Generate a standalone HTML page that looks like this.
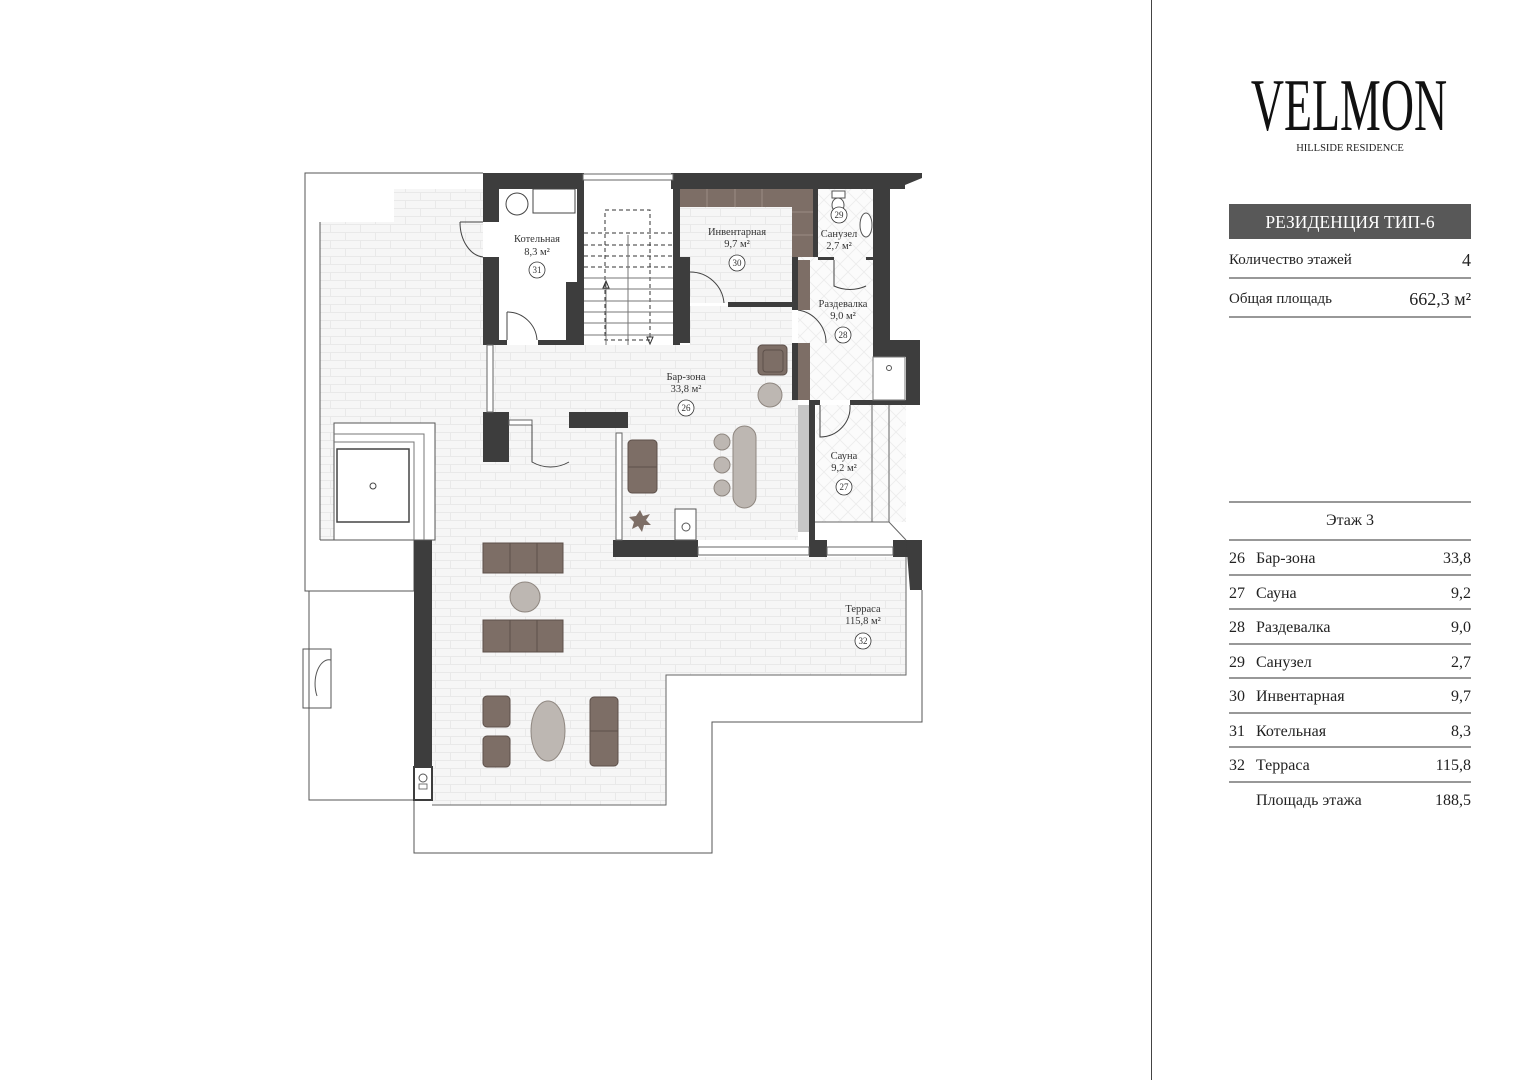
<!DOCTYPE html>
<html><head><meta charset="utf-8"><style>
html,body{margin:0;padding:0;background:#fff;}
body{width:1539px;height:1080px;overflow:hidden;position:relative;font-family:"Liberation Serif",serif;}
svg{position:absolute;left:0;top:0;}
svg text{font-family:"Liberation Serif",serif;}
</style></head><body>
<svg width="1539" height="1080" viewBox="0 0 1539 1080" xmlns="http://www.w3.org/2000/svg">
<defs>
<pattern id="tile" width="30" height="16" patternUnits="userSpaceOnUse">
<rect width="30" height="16" fill="#f6f6f6"/>
<path d="M0 0.5H30M0 8.5H30M0.5 0V8M15.5 8V16" stroke="#e9e9e9" stroke-width="1" fill="none"/>
</pattern>
<pattern id="diag" width="16" height="16" patternUnits="userSpaceOnUse">
<rect width="16" height="16" fill="#fbfbfb"/>
<path d="M0 0L16 16M16 0L0 16" stroke="#ececec" stroke-width="0.8"/>
</pattern>
</defs>

<!-- outer thin outlines -->
<g fill="none" stroke="#555" stroke-width="1">
<polyline points="483,173 305,173 305,591 414,591"/>
<polyline points="309,591 309,800 414,800"/>
<rect x="303" y="649" width="28" height="59"/>
<path d="M331,660 A14,24 0 0 0 317,696" />
<polyline points="922,590 922,722 712,722 712,853 414,853 414,787"/>
</g>

<!-- tiled floors -->
<polygon points="320,222 394,222 394,189 483,189 483,345 492,345 792,345 792,400 798,400 798,540 613,540 613,557 432,557 432,540 320,540" fill="url(#tile)"/>
<rect x="497" y="189" width="80" height="151" fill="#fff"/>
<rect x="432" y="557" width="474" height="118" fill="url(#tile)"/>
<rect x="432" y="675" width="234" height="130" fill="url(#tile)"/>
<rect x="690" y="306" width="102" height="40" fill="url(#tile)"/>
<rect x="680" y="207" width="112" height="96" fill="url(#tile)"/>
<rect x="798" y="257" width="75" height="143" fill="url(#diag)"/>
<rect x="818" y="189" width="55" height="68" fill="url(#diag)"/>
<rect x="816" y="405" width="90" height="117" fill="url(#diag)"/>
<line x1="414" y1="540" x2="414" y2="591" stroke="#555"/>
<line x1="320" y1="540" x2="414" y2="540" stroke="#555"/>
<line x1="320" y1="222" x2="320" y2="540" stroke="#555"/>
<polyline points="906,557 906,675 666,675 666,805 432,805" fill="none" stroke="#666"/>

<!-- walls -->
<g fill="#3d3d3d">
<rect x="483" y="173" width="100" height="16"/>
<rect x="483" y="173" width="16" height="49"/>
<rect x="483" y="257" width="16" height="88"/>
<rect x="483" y="340" width="24" height="5"/>
<rect x="538" y="340" width="45" height="5"/>
<rect x="566" y="282" width="11" height="63"/>
<rect x="577" y="173" width="7" height="172"/>
<rect x="673" y="173" width="7" height="172"/>
<polygon points="671,173 922,173 922,178 905,185 905,189 671,189"/>
<rect x="680" y="257" width="10" height="86"/>
<rect x="728" y="302" width="64" height="5"/>
<rect x="813" y="189" width="5" height="68"/>
<rect x="792" y="257" width="6" height="53"/>
<rect x="792" y="343" width="6" height="57"/>
<rect x="818" y="257" width="16" height="3"/>
<rect x="866" y="257" width="7" height="3"/>
<rect x="873" y="185" width="17" height="172"/>
<rect x="873" y="340" width="47" height="17"/>
<rect x="906" y="357" width="14" height="48"/>
<rect x="812" y="400" width="8" height="5"/>
<rect x="850" y="400" width="56" height="5"/>
<rect x="809" y="400" width="6" height="155"/>
<rect x="483" y="412" width="26" height="50"/>
<rect x="569" y="412" width="59" height="16"/>
<rect x="613" y="540" width="85" height="17"/>
<rect x="809" y="540" width="18" height="17"/>
<rect x="893" y="540" width="27" height="17"/>
<polygon points="906,540 922,540 922,590 910,590"/>
<rect x="414" y="540" width="18" height="227"/>
</g>
<rect x="414" y="767" width="18" height="33" fill="#fff" stroke="#3d3d3d" stroke-width="2"/>
<circle cx="423" cy="778" r="4" fill="none" stroke="#555"/>
<rect x="419" y="784" width="8" height="5" fill="none" stroke="#555" stroke-width="0.8"/>

<!-- windows -->
<g fill="#fff" stroke="#666" stroke-width="1">
<rect x="583" y="174" width="90" height="6"/>
<rect x="487" y="345" width="6" height="67"/>
<rect x="509" y="420" width="23" height="5"/>
<rect x="616" y="433" width="6" height="107"/>
<rect x="698" y="547" width="111" height="8"/>
<rect x="827" y="547" width="66" height="8"/>
</g>

<!-- doors -->
<g fill="none" stroke="#444" stroke-width="1">
<path d="M460,222 L483,222 M460,222 A25,35 0 0 0 483,257"/>
<path d="M507,312 L507,340 M507,312 A30,30 0 0 1 537,340"/>
<path d="M532,425 L532,462 A37,37 0 0 0 569,462"/>
<path d="M690,272 A34,34 0 0 1 724,303"/>
<path d="M798,310 A33,33 0 0 1 826,343"/>
<path d="M834,260 L834,286 A32,26 0 0 0 866,286"/>
<path d="M820,405 L820,437 A30,30 0 0 0 850,405"/>
</g>

<!-- sauna benches -->
<rect x="798" y="405" width="11" height="127" fill="#c6c6c6"/>
<g fill="none" stroke="#666">
<line x1="872" y1="405" x2="872" y2="522"/>
<line x1="889" y1="405" x2="889" y2="522"/>
<polyline points="815,522 889,522 906,540"/>
</g>
<rect x="873" y="357" width="32" height="43" fill="#fff" stroke="#777"/>
<circle cx="889" cy="368" r="2.5" fill="none" stroke="#555"/>

<!-- stairs -->
<g stroke="#333" stroke-width="1" fill="none">
<g stroke-dasharray="4,3">
<line x1="584" y1="233" x2="673" y2="233"/><line x1="584" y1="245" x2="673" y2="245"/>
<line x1="584" y1="256" x2="673" y2="256"/><line x1="584" y1="267" x2="673" y2="267"/>
<rect x="605" y="210" width="45" height="130"/>
</g>
<g stroke="#777">
<line x1="584" y1="278" x2="673" y2="278"/><line x1="584" y1="289" x2="673" y2="289"/>
<line x1="584" y1="301" x2="673" y2="301"/><line x1="584" y1="312" x2="673" y2="312"/>
<line x1="584" y1="323" x2="673" y2="323"/><line x1="584" y1="335" x2="673" y2="335"/>
<line x1="606" y1="282" x2="606" y2="345"/><line x1="628" y1="235" x2="628" y2="345"/>
</g>
<path d="M603,288 L606,281 L609,288Z"/><path d="M647,337 L650,344 L653,337Z"/>
</g>

<!-- boiler room -->
<circle cx="517" cy="204" r="11" fill="#fff" stroke="#444"/>
<rect x="533" y="189" width="42" height="24" fill="#fff" stroke="#444"/>

<!-- storage shelves -->
<rect x="680" y="189" width="133" height="18" fill="#7d6e66"/>
<rect x="792" y="189" width="21" height="68" fill="#7d6e66"/>
<g stroke="#9a8c84"><line x1="707" y1="189" x2="707" y2="207"/><line x1="735" y1="189" x2="735" y2="207"/><line x1="762" y1="189" x2="762" y2="207"/><line x1="792" y1="212" x2="813" y2="212"/><line x1="792" y1="235" x2="813" y2="235"/></g>
<rect x="798" y="260" width="12" height="50" fill="#7d6e66"/>
<rect x="798" y="343" width="12" height="57" fill="#7d6e66"/>

<!-- sanuzel fixtures -->
<rect x="832" y="191" width="13" height="7" fill="#fff" stroke="#555"/>
<ellipse cx="838" cy="205" rx="6" ry="7" fill="#fff" stroke="#555"/>
<ellipse cx="866" cy="225" rx="6" ry="12" fill="#fff" stroke="#555"/>

<!-- furniture -->
<g fill="#7d6e66" stroke="#5d504a" stroke-width="1">
<rect x="758" y="345" width="29" height="30" rx="4"/>
<rect x="628" y="440" width="29" height="53" rx="4"/>
<rect x="483" y="543" width="80" height="30"/>
<rect x="483" y="620" width="80" height="32"/>
<rect x="483" y="696" width="27" height="31" rx="4"/>
<rect x="483" y="736" width="27" height="31" rx="4"/>
<rect x="590" y="697" width="28" height="69" rx="4"/>
</g>
<g stroke="#5d504a" fill="none">
<line x1="628" y1="467" x2="657" y2="467"/>
<line x1="510" y1="543" x2="510" y2="573"/><line x1="537" y1="543" x2="537" y2="573"/>
<line x1="510" y1="620" x2="510" y2="652"/><line x1="537" y1="620" x2="537" y2="652"/>
<line x1="590" y1="731" x2="618" y2="731"/>
<rect x="763" y="350" width="20" height="22" rx="3"/>
</g>
<g fill="#bdb7b2" stroke="#8f8780">
<circle cx="770" cy="395" r="12"/>
<rect x="733" y="426" width="23" height="82" rx="11.5"/>
<circle cx="722" cy="442" r="8"/><circle cx="722" cy="465" r="8"/><circle cx="722" cy="488" r="8"/>
<circle cx="525" cy="597" r="15"/>
<ellipse cx="548" cy="731" rx="17" ry="30"/>
</g>
<polygon points="640,510 643,516 650,514 646,520 651,525 644,525 642,532 638,526 632,529 634,522 629,517 636,516" fill="#7d6e66"/>
<rect x="675" y="509" width="21" height="31" fill="#fff" stroke="#555"/>
<circle cx="686" cy="527" r="4" fill="none" stroke="#555"/>

<!-- jacuzzi -->
<rect x="334" y="423" width="101" height="117" fill="#fff" stroke="#555"/>
<polyline points="334,434 424,434 424,540" fill="none" stroke="#777"/>
<polyline points="334,442 414,442 414,540" fill="none" stroke="#777"/>
<rect x="337" y="449" width="72" height="73" fill="#fff" stroke="#444" stroke-width="1.5"/>
<circle cx="373" cy="486" r="3" fill="none" stroke="#444"/>

<!-- room labels -->
<g font-size="10.5" fill="#333" text-anchor="middle">
<text x="537" y="242">Котельная</text><text x="537" y="255">8,3 м²</text>
<text x="737" y="235">Инвентарная</text><text x="737" y="247">9,7 м²</text>
<text x="839" y="237">Санузел</text><text x="839" y="249">2,7 м²</text>
<text x="843" y="307">Раздевалка</text><text x="843" y="319">9,0 м²</text>
<text x="686" y="380">Бар-зона</text><text x="686" y="392">33,8 м²</text>
<text x="844" y="459">Сауна</text><text x="844" y="471">9,2 м²</text>
<text x="863" y="612">Терраса</text><text x="863" y="624">115,8 м²</text>
</g>
<g fill="#fff" stroke="#333" stroke-width="0.8">
<circle cx="537" cy="270" r="8"/><circle cx="737" cy="263" r="8"/><circle cx="839" cy="215" r="8"/>
<circle cx="843" cy="335" r="8"/><circle cx="686" cy="408" r="8"/><circle cx="844" cy="487" r="8"/><circle cx="863" cy="641" r="8"/>
</g>
<g font-size="9" fill="#333" text-anchor="middle">
<text x="537" y="273">31</text><text x="737" y="266">30</text><text x="839" y="218">29</text>
<text x="843" y="338">28</text><text x="686" y="411">26</text><text x="844" y="490">27</text><text x="863" y="644">32</text>
</g>

<!-- right panel -->
<line x1="1151.5" y1="0" x2="1151.5" y2="1080" stroke="#444" stroke-width="1"/>
<text x="1349" y="130" font-size="74" text-anchor="middle" fill="#111" transform="translate(1349 0) scale(0.62 1) translate(-1349 0)">VELMON</text>
<text x="1350" y="151" font-size="10.5" text-anchor="middle" fill="#222">HILLSIDE RESIDENCE</text>
<rect x="1229" y="204" width="242" height="35" fill="#585858"/>
<text x="1350" y="228" font-size="17.5" text-anchor="middle" fill="#fff">РЕЗИДЕНЦИЯ ТИП-6</text>
<g font-size="15" fill="#222">
<text x="1229" y="264">Количество этажей</text><text x="1471" y="266" text-anchor="end" font-size="18">4</text>
<text x="1229" y="303">Общая площадь</text><text x="1471" y="305" text-anchor="end" font-size="18">662,3 м²</text>
</g>
<g stroke="#777" stroke-width="1.5">
<line x1="1229" y1="278" x2="1471" y2="278"/><line x1="1229" y1="317" x2="1471" y2="317"/>
<line x1="1229" y1="502" x2="1471" y2="502"/>
<line x1="1229" y1="540" x2="1471" y2="540"/><line x1="1229" y1="575" x2="1471" y2="575"/>
<line x1="1229" y1="609" x2="1471" y2="609"/><line x1="1229" y1="644" x2="1471" y2="644"/>
<line x1="1229" y1="678" x2="1471" y2="678"/><line x1="1229" y1="713" x2="1471" y2="713"/>
<line x1="1229" y1="747" x2="1471" y2="747"/><line x1="1229" y1="782" x2="1471" y2="782"/>
</g>
<g font-size="16" fill="#222">
<text x="1350" y="525" text-anchor="middle">Этаж 3</text>
<text x="1229" y="563">26</text><text x="1256" y="563">Бар-зона</text><text x="1471" y="563" text-anchor="end">33,8</text>
<text x="1229" y="598">27</text><text x="1256" y="598">Сауна</text><text x="1471" y="598" text-anchor="end">9,2</text>
<text x="1229" y="632">28</text><text x="1256" y="632">Раздевалка</text><text x="1471" y="632" text-anchor="end">9,0</text>
<text x="1229" y="667">29</text><text x="1256" y="667">Санузел</text><text x="1471" y="667" text-anchor="end">2,7</text>
<text x="1229" y="701">30</text><text x="1256" y="701">Инвентарная</text><text x="1471" y="701" text-anchor="end">9,7</text>
<text x="1229" y="736">31</text><text x="1256" y="736">Котельная</text><text x="1471" y="736" text-anchor="end">8,3</text>
<text x="1229" y="770">32</text><text x="1256" y="770">Терраса</text><text x="1471" y="770" text-anchor="end">115,8</text>
<text x="1256" y="805">Площадь этажа</text><text x="1471" y="805" text-anchor="end">188,5</text>
</g>
</svg>
</body></html>
